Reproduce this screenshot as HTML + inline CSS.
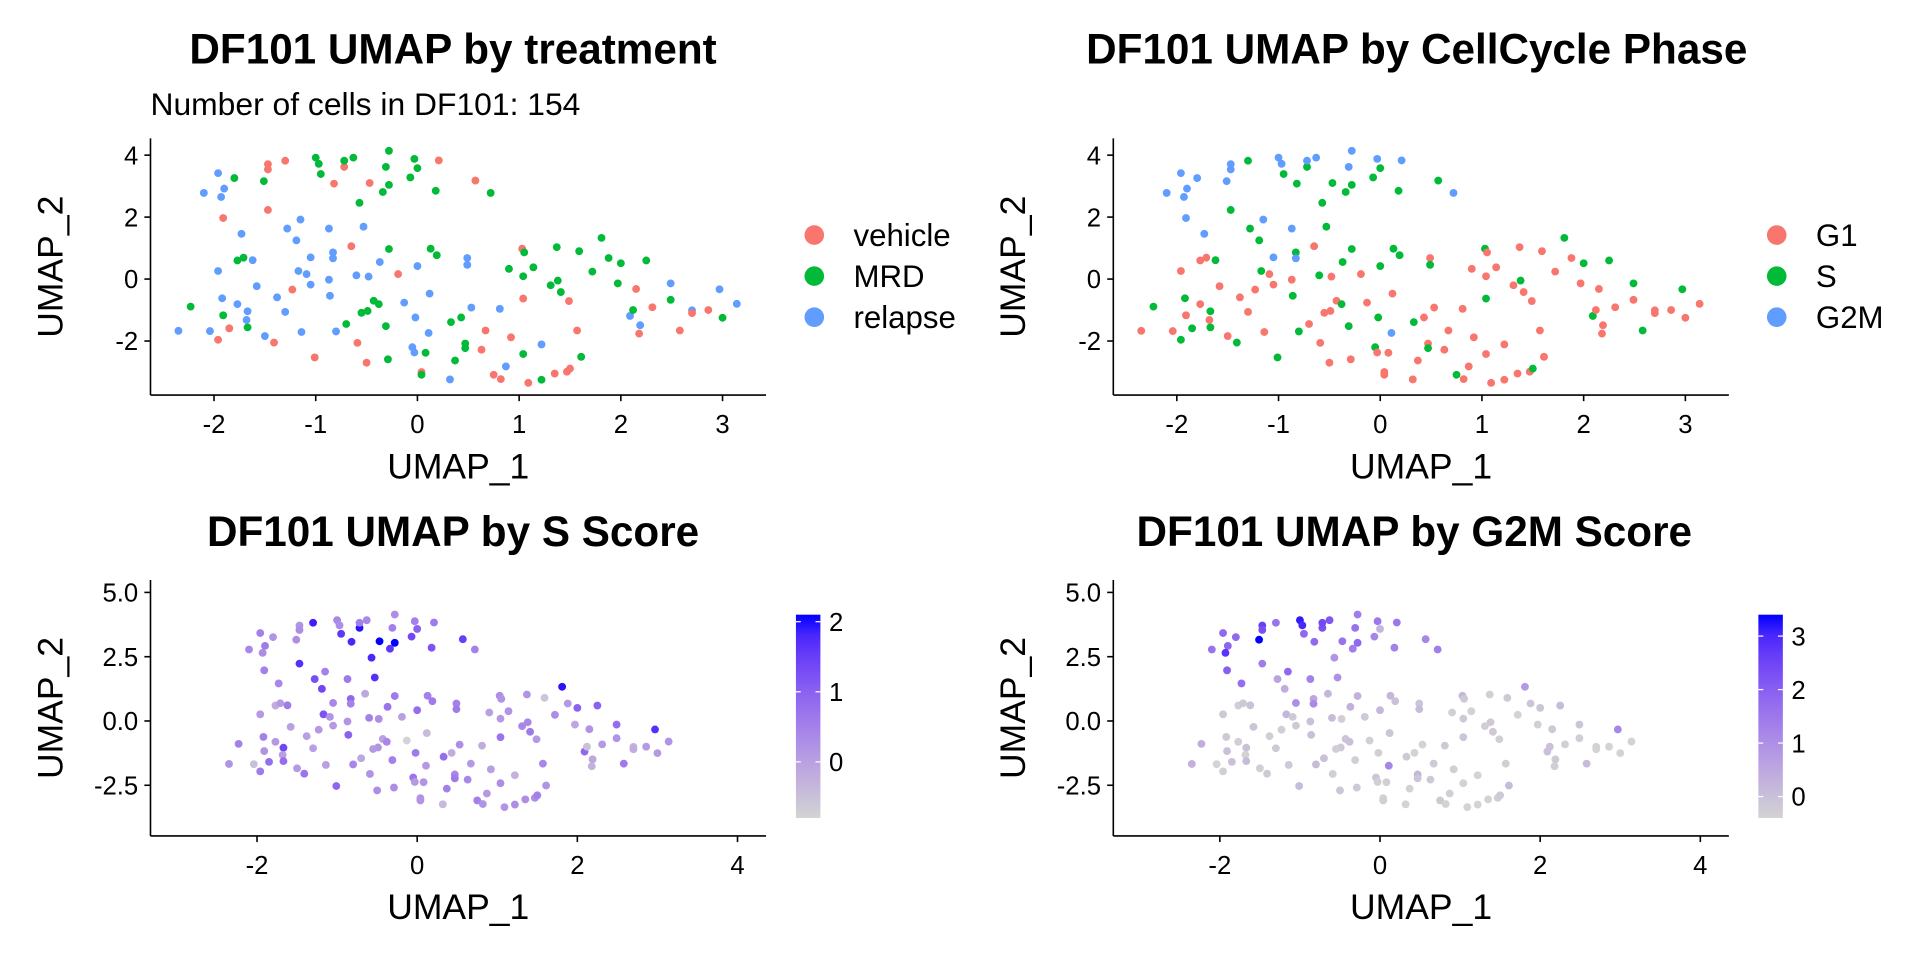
<!DOCTYPE html>
<html><head><meta charset="utf-8"><style>
html,body{margin:0;padding:0;background:#fff;}
svg{display:block;font-family:"Liberation Sans",Arial,sans-serif;}
</style></head><body>
<svg id="fig" width="1920" height="960" viewBox="0 0 1568 784" xmlns="http://www.w3.org/2000/svg"></svg>
<script>
const umap1=[-1.96,-2.10,-1.90,-1.93,-1.73,-1.28,-1.15,-1.19,-0.87,-0.53,-1.62,-1.96,-1.05,-0.83,-0.83,-0.37,-1.17,-1.09,0.00,-0.60,-0.48,-1.58,-1.05,-0.87,0.49,0.49,-1.38,-0.86,-1.92,-1.77,-1.67,-1.68,-1.30,0.12,-0.13,0.53,0.81,-2.35,-2.04,-1.50,-1.14,-0.80,-0.02,0.11,-0.05,-0.03,1.22,0.87,0.32,2.49,2.97,3.14,2.70,2.09,2.19,
-1.47,-1.47,-1.30,-0.72,-0.82,-0.47,0.21,0.57,-1.47,-1.91,-0.65,-0.19,-1.23,1.03,1.04,1.49,2.15,2.31,2.86,2.70,2.58,2.18,1.57,0.67,0.92,0.63,-1.85,-1.96,-1.41,-0.59,-1.01,-0.50,0.04,0.75,0.82,1.09,1.35,1.47,1.50,
-1.00,-0.97,-0.95,-0.63,-0.72,-0.28,-0.31,-0.03,0.00,-0.07,-0.28,-0.34,0.18,0.72,-1.80,-1.51,-0.57,-1.77,-1.71,-0.28,0.13,0.19,0.90,1.05,1.04,1.14,1.37,1.59,1.81,1.88,2.00,2.25,1.72,1.97,1.38,1.31,1.41,2.49,2.12,3.00,-2.23,-1.91,-1.67,-0.43,-0.38,-0.49,-0.55,-0.70,-0.31,0.33,0.43,0.47,0.47,0.08,0.37,-0.29,1.04,1.61,0.04,1.22];
const umap2=[3.42,2.78,2.92,2.65,1.46,1.63,1.92,1.25,1.63,1.69,0.61,0.26,0.70,0.86,0.67,0.55,0.26,0.16,0.42,0.12,0.08,-0.23,-0.18,-0.02,0.68,0.46,-0.59,-0.54,-0.62,-0.81,-1.04,-1.32,-1.06,-0.47,-0.76,-0.92,-0.96,-1.67,-1.68,-1.84,-1.71,-1.69,-1.24,-1.74,-2.20,-2.37,-2.11,-2.82,-3.24,-0.14,-0.33,-0.80,-1.01,-1.19,-1.49,
3.71,3.54,3.82,3.62,3.08,3.10,3.83,3.18,2.23,1.97,1.06,0.16,-0.34,0.98,-0.63,-0.71,-0.32,-0.91,-1.00,-1.10,-1.66,-1.76,-1.66,-1.66,-1.88,-2.28,-1.59,-1.96,-2.05,-2.06,-2.53,-2.70,-3.00,-3.09,-3.23,-3.35,-3.05,-2.99,-2.89,
3.92,3.72,3.39,3.92,3.82,4.14,3.62,3.88,3.58,3.28,3.04,2.81,2.85,2.78,3.26,3.16,2.46,0.60,0.69,0.97,0.98,0.77,0.33,0.86,0.09,0.38,1.03,0.90,1.33,0.68,0.51,0.60,0.24,-0.14,-0.05,-0.20,-0.42,-0.67,-1.00,-1.25,-0.89,-1.17,-1.56,-0.70,-0.81,-1.03,-1.09,-1.45,-1.52,-1.39,-1.24,-2.08,-2.23,-2.38,-2.63,-2.59,-2.42,-2.51,-3.09,-3.25];
const treatment="RRRRRRRRRRRRRRRRRRRRRRRRRRRRRRRRRRRRRRRRRRRRRRRRRRRRRRR"+"VVVVVVVVVVVVVVVVVVVVVVVVVVVVVVVVVVVVVVV"+"MMMMMMMMMMMMMMMMMMMMMMMMMMMMMMMMMMMMMMMMMMMMMMMMMMMMMMMMMMMM";
const phase=["G2M","G2M","G2M","G2M","G2M","S","G2M","S","G2M","S","S","G1","G2M","S","G2M","S","S","G1","S","S","G1","G1","G1","G1","G1","S","G1","S","S","G1","S","G1","G1","G1","G1","G1","G1","G1","G1","G1","G1","S","S","G2M","S","G1","G1","G1","G1","S","S","G1","G1","S","G1",
"G2M","G2M","S","S","S","S","G2M","S","S","G2M","G1","G1","G1","S","S","G1","G1","G1","G1","G1","S","G1","G1","G1","G1","G1","S","S","S","G1","S","G1","G1","S","G1","G1","G1","G1","S",
"G2M","G2M","S","G2M","G2M","G2M","G2M","G2M","S","S","S","S","S","G2M","G2M","G2M","S","G1","G1","S","S","S","G1","G1","G1","G1","G1","G1","S","G1","S","S","G1","G1","S","G1","G1","G1","G1","G1","S","G1","S","G1","S","G1","G1","G1","S","S","G1","G1","S","G1","G1","G1","G1","G1","G1","G1"];
const sScore=[0.5,0.4,0.6,0.3,0.4,1.3,0.5,1.4,0.6,1.7,0.6,0.1,0.4,0.9,0.5,0.7,1.2,0.2,0.8,0.5,0.3,0.0,0.1,0.2,0.5,0.6,0.0,1.0,0.5,0.1,1.4,0.0,0.0,-0.4,-0.8,0.3,-0.2,0.2,-0.5,0.1,0.0,0.4,0.6,0.1,0.7,0.1,-0.3,0.1,-0.4,0.8,1.7,0.2,-0.3,0.9,-0.1,
0.2,0.3,1.9,2.0,1.8,2.1,0.6,1.5,1.7,0.5,-0.1,0.0,0.1,0.3,0.7,0.1,0.2,0.1,0.1,-0.2,0.6,-0.3,0.4,0.1,0.0,0.4,0.8,0.6,0.7,0.2,0.9,0.3,0.2,0.5,0.2,0.2,0.3,0.3,0.5,
0.4,0.3,1.6,0.4,0.5,0.3,0.5,0.5,1.0,1.4,2.1,1.6,1.2,0.5,0.2,0.3,1.8,-0.2,0.1,0.6,0.5,0.6,0.0,0.2,0.1,0.2,0.2,-0.6,2.0,0.1,1.0,1.0,0.3,-0.1,0.4,0.4,0.6,0.2,-0.5,0.1,0.5,0.2,0.8,0.0,0.4,0.2,0.1,-0.1,0.5,0.8,-0.2,0.4,0.6,0.2,0.5,0.3,0.3,0.2,0.2,0.3];
const g2mScore=[1.8,1.6,1.9,2.8,1.7,0.6,1.8,0.4,1.3,1.0,0.0,-0.2,1.0,0.5,1.1,0.3,0.2,-0.2,0.2,0.1,-0.3,-0.1,-0.2,0.0,-0.1,0.1,-0.3,0.0,-0.2,-0.3,0.0,-0.4,-0.2,-0.1,-0.3,-0.4,-0.2,0.3,-0.4,-0.3,-0.2,0.1,-0.3,1.2,-0.1,-0.3,-0.4,-0.3,-0.4,-0.1,1.2,-0.4,-0.3,0.0,-0.2,
2.6,2.3,1.6,2.3,1.8,1.6,1.5,1.2,1.4,2.0,0.2,-0.2,-0.3,0.2,-0.1,-0.3,-0.2,-0.3,-0.4,-0.4,0.1,-0.3,-0.3,-0.2,-0.3,-0.2,0.0,-0.3,-0.2,-0.3,0.1,-0.1,-0.4,-0.2,-0.4,-0.4,-0.4,-0.3,-0.2,
3.2,3.0,1.8,2.2,2.4,1.4,1.6,1.5,0.2,1.2,1.8,1.4,1.3,1.4,1.8,3.4,0.9,-0.3,-0.2,0.3,0.2,0.0,-0.3,-0.2,-0.2,-0.4,-0.3,-0.2,0.8,-0.1,-0.1,0.1,-0.4,-0.3,-0.2,-0.3,-0.2,-0.3,0.0,-0.4,0.4,0.0,0.1,-0.1,0.0,-0.2,-0.3,0.0,-0.3,-0.2,-0.4,0.2,-0.1,-0.3,-0.4,-0.2,-0.4,0.1,-0.3,-0.4];
const treatLevels=["vehicle","MRD","relapse"];
const phaseLevels=["G1","S","G2M"];
const sTicks=[0,1,2];
const g2mTicks=[0,1,2,3];

const NS="http://www.w3.org/2000/svg";
const svg=document.getElementById('fig');
const PAL=["#F8766D","#00BA38","#619CFF"];
function el(tag,attrs,parent){const e=document.createElementNS(NS,tag);for(const k in attrs)e.setAttribute(k,attrs[k]);(parent||svg).appendChild(e);return e;}
function txt(s,x,y,size,opts,parent){const t=el('text',Object.assign({x:x,y:y,'font-size':size,fill:'#000'},opts||{}),parent);t.textContent=s;return t;}
function s2l(c){c/=255;return c<=0.04045?c/12.92:Math.pow((c+0.055)/1.055,2.4);}
function l2s(c){c=c<=0.0031308?12.92*c:1.055*Math.pow(c,1/2.4)-0.055;return Math.round(Math.max(0,Math.min(1,c))*255);}
function toLab(r,g,b){r=s2l(r);g=s2l(g);b=s2l(b);let X=(0.4124*r+0.3576*g+0.1805*b)/0.95047,Y=0.2126*r+0.7152*g+0.0722*b,Z=(0.0193*r+0.1192*g+0.9505*b)/1.08883;const f=t=>t>0.008856?Math.cbrt(t):7.787*t+16/116;X=f(X);Y=f(Y);Z=f(Z);return[116*Y-16,500*(X-Y),200*(Y-Z)];}
function fromLab(L,a,b){let Y=(L+16)/116,X=a/500+Y,Z=Y-b/200;const fi=t=>t*t*t>0.008856?t*t*t:(t-16/116)/7.787;X=fi(X)*0.95047;Y=fi(Y);Z=fi(Z)*1.08883;const r=3.2406*X-1.5372*Y-0.4986*Z,g=-0.9689*X+1.8758*Y+0.0415*Z,bb=0.0557*X-0.2040*Y+1.0570*Z;return "rgb("+l2s(r)+","+l2s(g)+","+l2s(bb)+")";}
const LA=toLab(211,211,211),LB=toLab(0,0,255);
function grad(t){t=Math.max(0,Math.min(1,t));return fromLab(LA[0]+(LB[0]-LA[0])*t,LA[1]+(LB[1]-LA[1])*t,LA[2]+(LB[2]-LA[2])*t);}
function range(a){return[Math.min(...a),Math.max(...a)];}

function panel(cfg){
  const g=el('g',{});
  
  
  const sx=v=>cfg.x0+v*cfg.ux, sy=v=>cfg.y0-v*cfg.uy;
  txt(cfg.title,cfg.tx,cfg.ty,34.5,{'font-weight':'bold','text-anchor':'middle',},g);
  if(cfg.subtitle)txt(cfg.subtitle,cfg.left,94,26,{},g);
  const pg=el('g',{},g);
  
  
  for(let i=0;i<umap1.length;i++){
    const c=el('circle',{cx:sx(umap1[i]).toFixed(2),cy:sy(umap2[i]).toFixed(2),r:3.2,fill:cfg.color(i)},pg);
    
    
  }
  const ax=el('line',{x1:cfg.left,y1:cfg.bottom,x2:cfg.right,y2:cfg.bottom,stroke:'#000','stroke-width':1.3},g);
  
  const ay=el('line',{x1:cfg.left,y1:cfg.top,x2:cfg.left,y2:cfg.bottom,stroke:'#000','stroke-width':1.3},g);
  
  cfg.xt.forEach(v=>{const x=sx(v);el('line',{x1:x,y1:cfg.bottom,x2:x,y2:cfg.bottom+5,stroke:'#000','stroke-width':1.3},g);
    txt(String(v),x,cfg.bottom+31,21,{'text-anchor':'middle',},g);});
  cfg.yt.forEach((v,k)=>{const y=sy(v);el('line',{x1:cfg.left-5,y1:y,x2:cfg.left,y2:y,stroke:'#000','stroke-width':1.3},g);
    txt(cfg.ytl[k],cfg.left-10,y+7.5,21,{'text-anchor':'end',},g);});
  txt('UMAP_1',(cfg.left+cfg.right)/2,cfg.bottom+68,29,{'text-anchor':'middle',},g);
  const ym=(cfg.top+cfg.bottom)/2, yx=cfg.left-72;
  txt('UMAP_2',yx,ym,29,{'text-anchor':'middle',transform:'rotate(-90 '+yx+' '+ym+')',},g);
  cfg.legend && cfg.legend(g);
}
function catLegend(g,lx,levels){
  levels.forEach((l,k)=>{const y=192+k*33.5;
    const c=el('circle',{cx:lx,cy:y,r:8,fill:PAL[k]},g);
    
    txt(l,lx+32,y+9,25.5,{},g);});
}
function barLegend(g,bx,vals,ticks,id){
  const [mn,mx]=range(vals);const top=502,bot=668;
  const defs=el('defs',{},g);
  const lg=el('linearGradient',{id:id,x1:0,y1:1,x2:0,y2:0},defs);
  for(let k=0;k<=10;k++)el('stop',{offset:k/10,'stop-color':grad(k/10)},lg);
  const r=el('rect',{x:bx,y:top,width:20,height:bot-top,fill:'url(#'+id+')'},g);
  
  ticks.forEach(v=>{const y=bot-(v-mn)/(mx-mn)*(bot-top);
    el('line',{x1:bx,y1:y,x2:bx+4,y2:y,stroke:'#fff','stroke-width':1},g);
    el('line',{x1:bx+16,y1:y,x2:bx+20,y2:y,stroke:'#fff','stroke-width':1},g);
    txt(String(v),bx+27,y+7.5,21,{},g);});
}
const off=786.3;
const top1={x0:340.9,ux:83.06,y0:227.9,uy:25.3,left:122.9,right:625.6,top:113,bottom:322.6,ty:52,xt:[-2,-1,0,1,2,3],yt:[-2,0,2,4],ytl:["-2","0","2","4"]};
const bot1={x0:340.7,ux:65.4,y0:588.8,uy:21.0,left:122.9,right:625.6,top:473.7,bottom:682.7,ty:446,xt:[-2,0,2,4],yt:[-2.5,0,2.5,5],ytl:["-2.5","0.0","2.5","5.0"]};
function shift(c,d){return Object.assign({},c,{x0:c.x0+d,left:c.left+d,right:c.right+d});}
const TI={R:2,V:0,M:1};
panel(Object.assign({},top1,{name:'panel-treatment',title:'DF101 UMAP by treatment',tx:370,subtitle:'Number of cells in DF101: 154',
  color:i=>PAL[TI[treatment[i]]],legend:g=>catLegend(g,665,treatLevels)}));
panel(Object.assign(shift(top1,off),{name:'panel-cellcycle',title:'DF101 UMAP by CellCycle Phase',tx:1157,
  color:i=>PAL[phaseLevels.indexOf(phase[i])],legend:g=>catLegend(g,1451,phaseLevels)}));
const sR=range(sScore),gR=range(g2mScore);
panel(Object.assign({},bot1,{name:'panel-s-score',title:'DF101 UMAP by S Score',tx:370,
  color:i=>grad((sScore[i]-sR[0])/(sR[1]-sR[0])),legend:g=>barLegend(g,650,sScore,sTicks,'gs')}));
panel(Object.assign(shift(bot1,off),{name:'panel-g2m-score',title:'DF101 UMAP by G2M Score',tx:1155,
  color:i=>grad((g2mScore[i]-gR[0])/(gR[1]-gR[0])),legend:g=>barLegend(g,1436,g2mScore,g2mTicks,'gg')}));
</script>
</body></html>
